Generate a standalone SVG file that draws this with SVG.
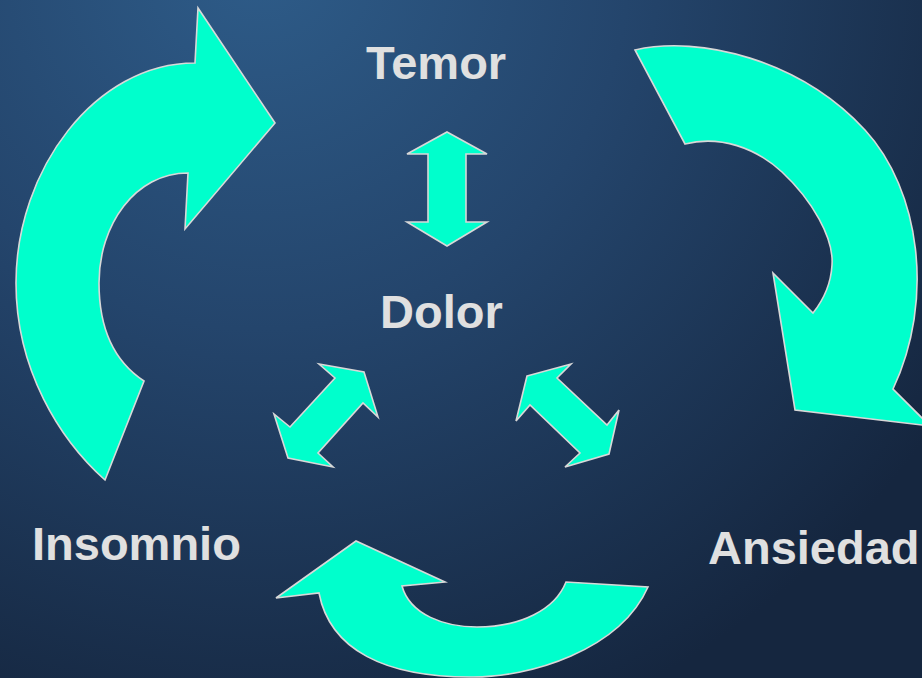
<svg xmlns="http://www.w3.org/2000/svg" width="922" height="678" viewBox="0 0 922 678">
  <defs>
    <radialGradient id="bg" gradientUnits="userSpaceOnUse" cx="260" cy="-40" r="820">
      <stop offset="0" stop-color="#2e5c89"/>
      <stop offset="0.45" stop-color="#24456c"/>
      <stop offset="1" stop-color="#15263f"/>
    </radialGradient>
    <style>
      .arrow { fill: #00ffcc; stroke: #d8d8d8; stroke-width: 1.6; stroke-linejoin: miter; }
      .label { font-family: "Liberation Sans", Arial, sans-serif; font-weight: bold; font-size: 47px; fill: #e0e0e0; }
    </style>
  </defs>
  <rect x="0" y="0" width="922" height="678" fill="url(#bg)"/>

  <g id="connectors">
    <path id="arrow-left" class="arrow" d="M105,480 L144,381 C115,362 99,330 99,283 C99,225 135,173 188,173 L185,229 L275,123 L198,8 L195,63 C95,63 16,170 16,283 C16,370 60,440 105,480 Z"/>
    <path id="arrow-right" class="arrow" d="M635,50 C700,35 800,60 865,130 C920,190 935,300 893,389 L930,426 L795,410 L773,273 L813,313 C825,298 831,283 832,265 C834,238 812,200 782,172 C756,148 720,135 685,144 Z"/>
    <path id="arrow-bottom" class="arrow" d="M648,587 C620,650 530,678 470,677 C385,677 330,650 319,593 L276,598 L356,541 L445,582 L402,586 C410,615 445,627 477,627 C520,627 555,610 566,582 Z"/>
    <polygon id="arrow-temor-dolor" class="arrow" points="447,132 487,154 466,154 466,222 487,222 447,246 407,222 428,222 428,154 407,154"/>
    <polygon id="arrow-dolor-insomnio" class="arrow" points="364,372 378,417 363,403 318,453 333,467 288,458 274,414 290,427 335,378 319,364"/>
    <polygon id="arrow-dolor-ansiedad" class="arrow" points="527,376 571,364 557,378 607,425 619,410 609,454 565,467 580,453 530,405 516,421"/>
  </g>

  <g id="node-temor"><text class="label" x="366" y="79">Temor</text></g>
  <g id="node-dolor"><text class="label" x="380" y="328">Dolor</text></g>
  <g id="node-insomnio"><text class="label" x="32" y="560">Insomnio</text></g>
  <g id="node-ansiedad"><text class="label" x="708" y="564">Ansiedad</text></g>
</svg>
